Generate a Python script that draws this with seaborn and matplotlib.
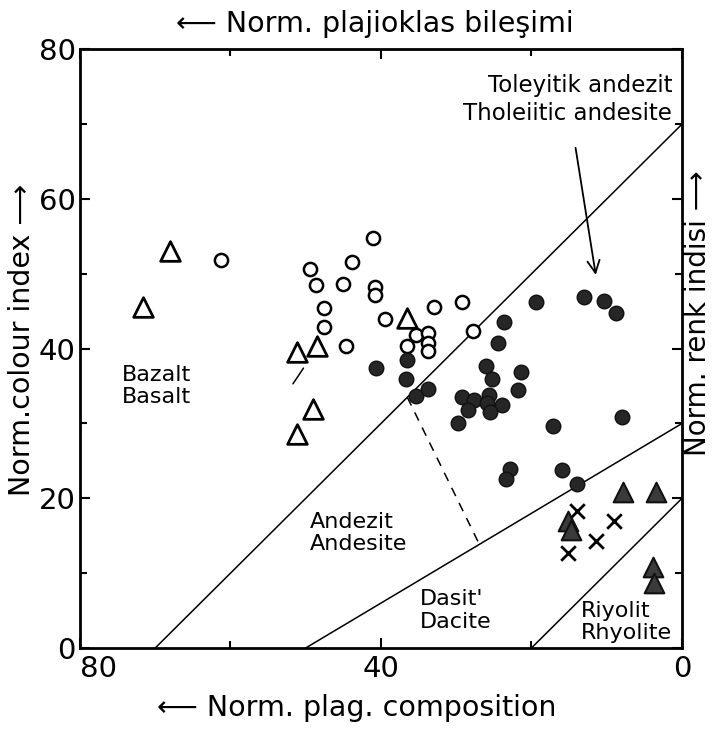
import numpy as np
import pandas as pd
import matplotlib.pyplot as plt
import seaborn as sns

# open triangles
otri_x = [68.0, 71.6, 51.1, 48.5, 49.1, 51.1, 36.6]
otri_y = [53.1, 45.6, 39.6, 40.3, 32.0, 28.6, 44.1]

# open circles
ocir_x = [61.2, 49.5, 43.9, 48.6, 45.1, 47.6, 47.6, 44.6, 41.0, 40.8, 40.8,
          32.9, 29.2, 39.5, 35.3, 33.7, 33.7, 33.8, 36.5, 27.8]
ocir_y = [51.8, 50.7, 51.6, 48.5, 48.6, 45.4, 42.9, 40.4, 54.8, 48.3, 47.2,
          45.5, 46.2, 43.9, 41.8, 42.1, 40.8, 39.7, 40.3, 42.4]

# filled circles
fcir_x = [36.6, 40.6, 36.7, 35.3, 33.7, 19.4, 13.0, 10.3, 8.8, 23.6, 24.4,
          26.1, 25.3, 21.4, 21.8, 29.3, 27.7, 25.7, 25.9, 23.9, 28.5, 25.5,
          29.7, 17.2, 8.0, 22.9, 23.4, 16.0, 14.0]
fcir_y = [38.5, 37.4, 35.9, 33.7, 34.6, 46.2, 46.9, 46.4, 44.8, 43.5, 40.7,
          37.7, 35.9, 36.9, 34.5, 33.5, 33.1, 33.8, 32.8, 32.5, 31.8, 31.5,
          30.1, 29.6, 30.8, 23.9, 22.6, 23.8, 21.9]

# crosses
cross_x = [14.0, 15.1, 11.4, 9.1]
cross_y = [18.3, 12.7, 14.3, 17.0]

# filled triangles
ftri_x = [15.2, 14.8, 7.8, 3.5, 3.8, 3.7]
ftri_y = [17.0, 15.8, 20.9, 20.9, 10.8, 8.7]

# field boundaries
b1_x, b1_y = [70, 0], [0, 70]
b2_x, b2_y = [50, 0], [0, 30]
b3_x, b3_y = [20, 0], [0, 20]
dash_x, dash_y = [36.5, 27.0], [33.5, 14.0]
mark_x, mark_y = [51.7, 50.3], [35.3, 37.4]

sns.set_style('ticks')
plt.rcParams['font.family'] = ['DejaVu Sans']
plt.rcParams['text.color'] = 'black'
plt.rcParams['xtick.color'] = 'black'
plt.rcParams['ytick.color'] = 'black'

fig = plt.figure(figsize=(7.13, 7.33), dpi=100)
ax = fig.add_axes([0.1122, 0.116, 0.8443, 0.8167])

for bx, by in [(b1_x, b1_y), (b2_x, b2_y), (b3_x, b3_y)]:
    ax.plot(bx, by, color='black', lw=1.1)
ax.plot(dash_x, dash_y, color='black', lw=1.1, ls=(0, (6, 5)))
ax.plot(mark_x, mark_y, color='black', lw=1.1)

sns.scatterplot(x=ocir_x, y=ocir_y, marker='o', s=90, color='white',
                edgecolor='black', linewidth=1.8, ax=ax, zorder=3)
sns.scatterplot(x=otri_x, y=otri_y, marker='^', s=200, color='white',
                edgecolor='black', linewidth=2.0, ax=ax, zorder=3)
sns.scatterplot(x=fcir_x, y=fcir_y, marker='o', s=110, color='#262626',
                edgecolor='#111111', linewidth=1.0, ax=ax, zorder=3)
sns.scatterplot(x=cross_x, y=cross_y, marker='x', s=110, color='black',
                linewidth=2.0, ax=ax, zorder=3)
sns.scatterplot(x=ftri_x, y=ftri_y, marker='^', s=200, color='#3a3a3a',
                edgecolor='#111111', linewidth=1.5, ax=ax, zorder=3)

ax.set_xlim(80, 0)
ax.set_ylim(0, 80)
ax.set_xticks([80, 40, 0])
ax.set_xticklabels(['80', '40', '0'])
ax.set_xticks([60, 20], minor=True)
ax.set_yticks([0, 20, 40, 60, 80])
ax.set_yticks([10, 30, 50, 70], minor=True)
ax.tick_params(which='both', direction='in', top=True, right=True,
               width=1.5, labelsize=21, labelcolor='black')
ax.tick_params(which='major', length=7)
ax.tick_params(which='minor', length=5)
ax.tick_params(axis='x', pad=5)
ax.tick_params(axis='y', pad=3)
ax.get_xticklabels()[0].set_horizontalalignment('left')
for sp in ax.spines.values():
    sp.set_linewidth(2.0)
    sp.set_color('black')
ax.set_xlabel('')
ax.set_ylabel('')

txt = dict(fontsize=16, color='black', linespacing=1.15)
ax.text(74.4, 35.0, 'Bazalt\nBasalt', ha='left', va='center', **txt)
ax.text(49.4, 15.4, 'Andezit\nAndesite', ha='left', va='center', **txt)
ax.text(34.8, 5.0, "Dasit'\nDacite", ha='left', va='center', **txt)
ax.text(13.5, 3.5, 'Riyolit\nRhyolite', ha='left', va='center', **txt)
ax.text(1.3, 73.3, 'Toleyitik andezit\nTholeiitic andesite', ha='right',
        va='center', fontsize=16.5, linespacing=1.3)
ax.annotate('', xy=(11.4, 49.5), xytext=(14.2, 67.2),
            arrowprops=dict(arrowstyle='->', lw=1.3, color='black',
                            mutation_scale=22))

fig.text(0.50, 0.034, '⟵ Norm. plag. composition', ha='center',
         va='center', fontsize=20.5)
fig.text(0.525, 0.967, '⟵ Norm. plajioklas bileşimi', ha='center',
         va='center', fontsize=20.5)
fig.text(0.031, 0.537, 'Norm.colour index ⟶', ha='center', va='center',
         rotation=90, fontsize=20.5)
fig.text(0.979, 0.573, 'Norm. renk indisi ⟶', ha='center', va='center',
         rotation=90, fontsize=20)

fig.savefig('out.png', dpi=100)
